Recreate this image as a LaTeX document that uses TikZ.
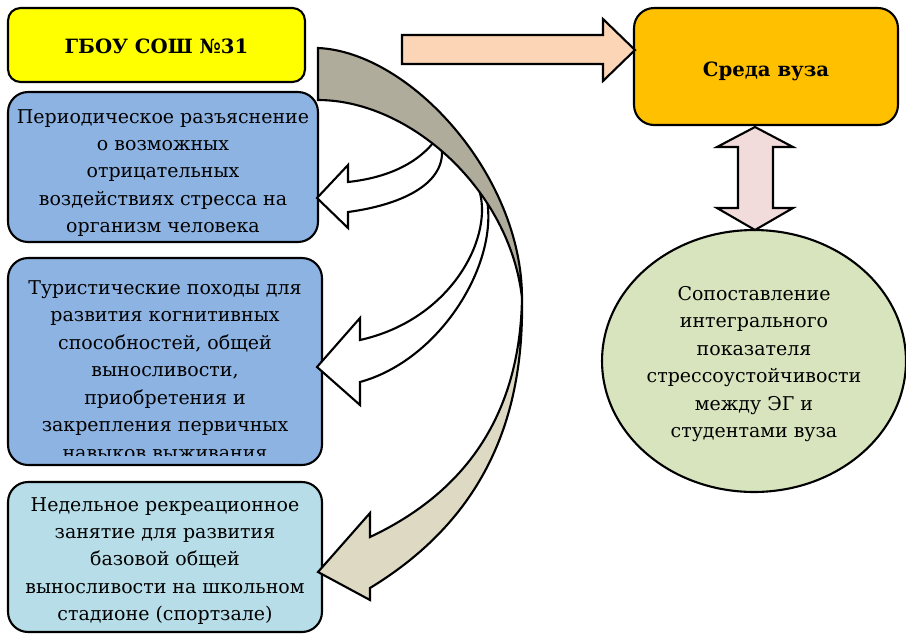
\documentclass[tikz,border=0pt]{standalone}
\usepackage{fontspec}
\setmainfont{DejaVu Serif}
\usetikzlibrary{shapes.geometric}

\definecolor{schoolyellow}{HTML}{FFFF00}
\definecolor{stressblue}{HTML}{8DB3E2}
\definecolor{recrcyan}{HTML}{B7DDE8}
\definecolor{vuzorange}{HTML}{FFC000}
\definecolor{arrowpeach}{HTML}{FBD5B5}
\definecolor{arrowpink}{HTML}{F2DCDB}
\definecolor{comparegreen}{HTML}{D7E4BD}
\definecolor{curvegray}{RGB}{176,172,156}
\definecolor{curvebeige}{RGB}{221,217,195}

\begin{document}
\begin{tikzpicture}[
    x=0.02cm, y=-0.02cm,
    txt/.style={font=\fontsize{10.8}{15.6}\selectfont, align=center, inner sep=0pt},
    boldtxt/.style={txt, font=\fontsize{11.2}{15.6}\selectfont\bfseries},
    box/.style={draw, line width=1.2pt, rounded corners=0.4cm},
    blockarr/.style={draw, line width=1.2pt, line join=miter},
  ]
  \useasboundingbox (0,0) rectangle (906,637);

  % left column
  \node[box, fill=schoolyellow, rounded corners=0.25cm, minimum width=5.94cm, minimum height=1.48cm] (school) at (156.5,45) {};
  \node[boldtxt] (schooltext) at (156.5,46) {ГБОУ СОШ №31};
  \node[box, fill=stressblue, minimum width=6.2cm, minimum height=3cm] (talks) at (163,167) {};
  \node[txt] (talkstext) at (163,173)
    {Периодическое разъяснение\\о возможных\\отрицательных\\воздействиях стресса на\\организм человека};
  \node[box, fill=stressblue, minimum width=6.28cm, minimum height=4.14cm] (hikes) at (165,361.5) {};
  \begin{scope}
    \clip[rounded corners=0.35cm] (10,260) rectangle (320,455);
    \node[txt] (hikestext) at (165,370)
      {Туристические походы для\\развития когнитивных\\способностей, общей\\выносливости,\\приобретения и\\закрепления первичных\\навыков выживания};
  \end{scope}
  \node[box, fill=recrcyan, minimum width=6.28cm, minimum height=3cm] (recreation) at (165,557) {};
  \node[txt] (recreationtext) at (165,561)
    {Недельное рекреационное\\занятие для развития\\базовой общей\\выносливости на школьном\\стадионе (спортзале)};

  % right column
  \node[box, fill=vuzorange, minimum width=5.28cm, minimum height=2.34cm] (vuz) at (766,66.5) {};
  \node[boldtxt] (vuztext) at (766,71) {Среда вуза};
  \node[ellipse, draw, line width=1.2pt, fill=comparegreen, minimum width=6.08cm, minimum height=5.24cm]
    (compare) at (754,361) {};
  \node[txt] (comparetext) at (754,364)
    {Сопоставление\\интегрального\\показателя\\стрессоустойчивости\\между ЭГ и\\студентами вуза};

  % school -> vuz
  \draw[blockarr, fill=arrowpeach] (402,35) -- (603,35) -- (603,19) -- (635,50) -- (603,81) -- (603,64) -- (402,64) -- cycle;
  % vuz <-> compare
  \draw[blockarr, fill=arrowpink] (755,127) -- (793,147) -- (773,147) -- (773,208) -- (793,208) -- (755,230)
    -- (717,208) -- (738,208) -- (738,147) -- (717,147) -- cycle;

  % white arrows to the blue boxes
  \draw[blockarr, fill=white] (433,143) .. controls (415,165) and (385,178) .. (348,182) -- (348,165) -- (317,198)
    -- (348,228) -- (348,212) .. controls (400,205) and (444,185) .. (442,150) -- (437,130) -- cycle;
  \draw[blockarr, fill=white] (480,193) .. controls (492,240) and (450,320) .. (360,340) -- (360,318) -- (317,367)
    -- (360,405) -- (360,382) .. controls (440,360) and (498,265) .. (487,200) -- (484,180) -- cycle;

  % big curved arrow
  \draw[blockarr, fill=curvegray] (318,48) .. controls (410,52) and (522,175) .. (522,298)
    .. controls (510,190) and (410,100) .. (318,100) -- cycle;
  \draw[blockarr, fill=curvebeige] (522,298) .. controls (524,410) and (490,515) .. (370,588) -- (370,600) -- (318,572)
    -- (370,513) -- (370,537) .. controls (470,490) and (520,410) .. (522,298) -- cycle;
\end{tikzpicture}
\end{document}
